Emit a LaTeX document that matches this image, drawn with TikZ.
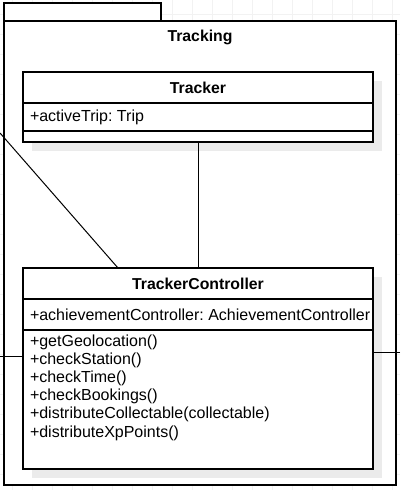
\documentclass[tikz,border=0pt]{standalone}
\usepackage{fontspec}
\setmainfont{Liberation Sans}
\usetikzlibrary{positioning,calc}
\newcommand{\shadowcolor}{black!8}
\newcommand{\gridcolor}{black!5}
\tikzstyle{every node}=[font=\fontsize{16}{18}\selectfont\frenchspacing, inner sep=0, outer sep=0]
\tikzstyle{umlbox}=[draw, line width=1.1pt, fill=white, anchor=north west, minimum width=350pt]
\tikzstyle{pkgbox}=[draw, line width=1.1pt, fill=white, anchor=north west]
\tikzstyle{heading}=[font=\fontsize{15.8}{18}\selectfont\bfseries]
\tikzstyle{member}=[anchor=west]

\begin{document}
\begin{tikzpicture}[x=1pt, y=-1pt]
\useasboundingbox[fill=white] (0,0) rectangle (400,490);

\foreach \x in {12, 32, ..., 392}
{
\draw[\gridcolor] (\x, 0) -- (\x, 490);
}
\foreach \y in {14, 34, ..., 474}
{
\draw[\gridcolor] (0, \y) -- (400, \y);
}

\node[pkgbox, minimum width=157pt, minimum height=18pt] (pkgtab) at (4, 3) {};
\node[pkgbox, minimum width=392pt, minimum height=464pt] (pkg) at (4, 21) {};
\node[heading] (pkgname) at (200, 37) {Tracking};

\fill[\shadowcolor] (32, 81) rectangle (382, 151);
\fill[\shadowcolor] (32, 277) rectangle (382, 478);

\node[umlbox, minimum height=31pt] (trk) at (23, 72) {};
\node[umlbox, minimum height=28pt] (trkattr) at (trk.south west) {};
\node[umlbox, minimum height=11pt] (trkops) at (trkattr.south west) {};
\node[heading] (trkname) at (trk.center) {Tracker};
\node[member, right=7pt of trkattr.west] (a1) {+activeTrip: Trip};

\node[umlbox, minimum height=31pt] (ctl) at (23, 268) {};
\node[umlbox, minimum height=31pt] (ctlattr) at (ctl.south west) {};
\node[umlbox, minimum height=139pt] (ctlops) at (ctlattr.south west) {};
\node[heading] (ctlname) at (ctl.center) {TrackerController};
\node[member, right=7pt of ctlattr.west] (c1) {+achievementController: AchievementController};

\foreach \t [count=\i from 0] in {{+getGeolocation()}, {+checkStation()}, {+checkTime()}, {+checkBookings()}, {+distributeCollectable(collectable)}, {+distributeXpPoints()}}
{
\node[member] (m\i) at (30, 342 + 18.2*\i) {\t};
}

\coordinate (leftin) at (0, 133);
\coordinate (leftout) at (0, 356);
\coordinate (rightout) at (400, 352);

\draw[line width=1pt] (trkops.south) -- (ctl.north);
\draw[line width=1pt] (leftin) -- ($(ctl.north west)+(95,0)$);
\draw[line width=1pt] (leftout) -- (leftout -| ctlops.west);
\draw[line width=1pt] (rightout) -- (rightout -| ctlops.east);
\end{tikzpicture}
\end{document}
